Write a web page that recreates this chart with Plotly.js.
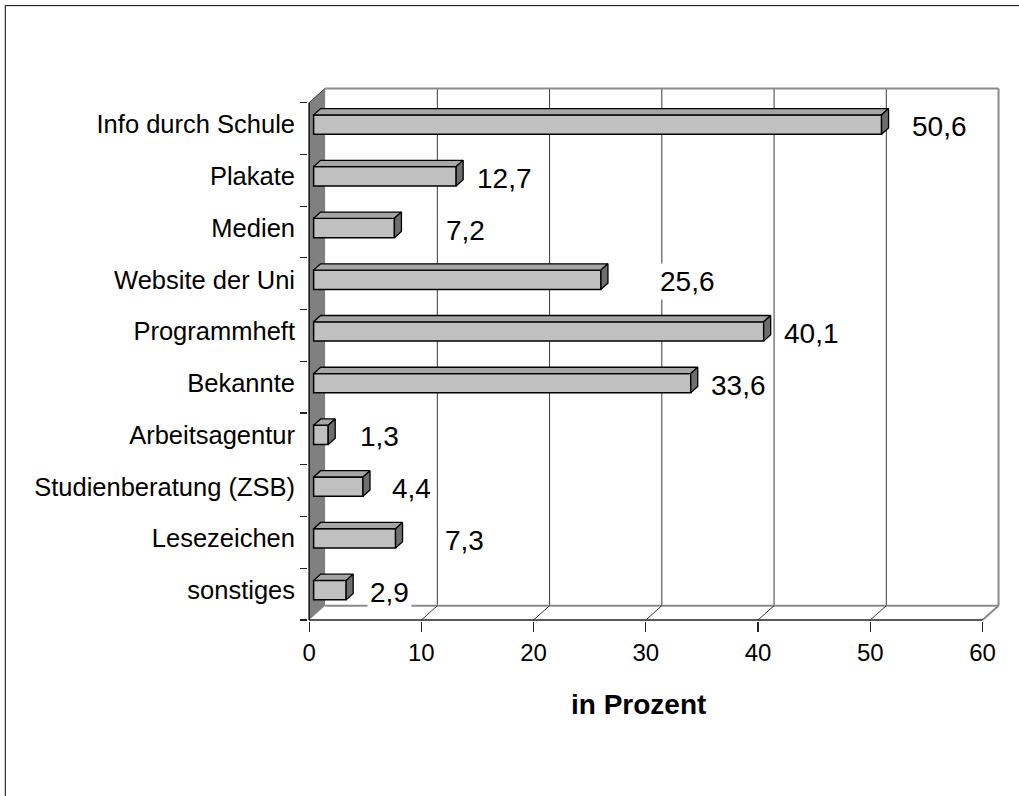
<!DOCTYPE html>
<html>
<head>
<meta charset="utf-8">
<script src="https://cdn.plot.ly/plotly-3.0.1.min.js"></script>
<style>
  html, body { margin: 0; padding: 0; background: #fff; }
  #chart { width: 1019px; height: 796px; }
</style>
</head>
<body>
<div id="chart"></div>
<script>
// ---- data ----
const categories = ['Info durch Schule', 'Plakate', 'Medien', 'Website der Uni', 'Programmheft',
                    'Bekannte', 'Arbeitsagentur', 'Studienberatung (ZSB)', 'Lesezeichen', 'sonstiges'];
const values = [50.6, 12.7, 7.2, 25.6, 40.1, 33.6, 1.3, 4.4, 7.3, 2.9];
const xTicks = [0, 10, 20, 30, 40, 50, 60];
const xTitle = 'in Prozent';

// ---- label placement (pixel gap from bar end to label centre) ----
const labelGapPx = [58, 48, 71, 87, 48, 48, 51, 48, 69, 43];

// ---- geometry / scales ----
const W = 1019, H = 796;
const FONT = 'Liberation Sans, Arial, sans-serif';
const sx = 11.23;           // px per x unit
const sy = 51.7;            // px per category
const X0PX = 309;           // pixel of x = 0 (front)
const FRONTPX = 620;        // pixel of front floor line
const xr = [-0.1, 62];
const yr = [-0.52, 9.9];
const mL = X0PX + xr[0] * sx;
const plotW = (xr[1] - xr[0]) * sx;
const mR = W - mL - plotW;
const bottomPx = FRONTPX + (-0.5 - yr[0]) * sy;
const mB = H - bottomPx;
const plotH = (yr[1] - yr[0]) * sy;
const mT = H - mB - plotH;

const Dx = 16 / sx, Dy = 14.3 / sy;     // wall depth
const dx = 7 / sx, dy = 6.3 / sy;       // bar depth
const ox = (Dx - dx) / 2, oy = (Dy - dy) / 2;
const hh = 19.3 / 2 / sy;               // half bar height

const xMax = xTicks[xTicks.length - 1];
const n = categories.length;
const yPos = categories.map((c, i) => (n - 1 - i) + oy);
const yBot = -0.5, yTop = n - 0.5;

const fmt = v => v.toFixed(1).replace('.', ',');

// ---- shapes: walls, floor, gridlines ----
const shapes = [];
const line = (x0, y0, x1, y1, color, width) => shapes.push({
  type: 'line', xref: 'x', yref: 'y', x0, y0, x1, y1, layer: 'below',
  line: { color, width }
});
// left wall
shapes.push({
  type: 'path', xref: 'x', yref: 'y', layer: 'below',
  path: `M 0 ${yBot} L ${Dx} ${yBot + Dy} L ${Dx} ${yTop + Dy} L 0 ${yTop} Z`,
  fillcolor: '#808080', line: { width: 0 }
});
// back wall gridlines
xTicks.slice(1, -1).forEach(t => line(t + Dx, yBot + Dy, t + Dx, yTop + Dy, '#3a3a3a', 1));
// back wall border + floor back edge
line(Dx, yTop + Dy, xMax + Dx, yTop + Dy, '#8a8a8a', 2);
line(xMax + Dx, yBot + Dy, xMax + Dx, yTop + Dy, '#8a8a8a', 2);
line(Dx, yBot + Dy, xMax + Dx, yBot + Dy, '#8a8a8a', 2);
line(xMax, yBot, xMax + Dx, yBot + Dy, '#8a8a8a', 2);
// floor connectors
xTicks.slice(1, -1).forEach(t => line(t, yBot, t + Dx, yBot + Dy, '#333', 1));
// front floor line and left front edge
line(0, yBot, xMax, yBot, '#222', 1.5);
line(0, yBot, 0, yTop, '#111', 1.5);
line(0, yTop, Dx, yTop + Dy, '#333', 1);

// outer frame (paper coords)
const px2paperX = p => (p - mL) / plotW;
const px2paperY = p => (bottomPx - p) / plotH;
shapes.push({
  type: 'rect', xref: 'paper', yref: 'paper', layer: 'above',
  x0: px2paperX(5), x1: px2paperX(W + 20), y0: px2paperY(H + 20), y1: px2paperY(6),
  line: { color: '#000', width: 1 }
});

// ---- bar faces ----
const topX = [], topY = [], sideX = [], sideY = [];
values.forEach((v, i) => {
  const y0 = yPos[i] - hh, y1 = yPos[i] + hh;
  const x0 = ox, x1 = ox + v;
  topX.push(x0, x1, x1 + dx, x0 + dx, x0, null);
  topY.push(y1, y1, y1 + dy, y1 + dy, y1, null);
  sideX.push(x1, x1 + dx, x1 + dx, x1, x1, null);
  sideY.push(y0, y0 + dy, y1 + dy, y1, y0, null);
});

const traces = [
  {
    type: 'bar', orientation: 'h', x: values, y: yPos, base: ox, width: 2 * hh,
    marker: { color: '#C0C0C0', line: { color: '#000', width: 1.5 } },
    hoverinfo: 'skip', showlegend: false
  },
  {
    type: 'scatter', mode: 'lines', x: topX, y: topY, fill: 'toself',
    fillcolor: '#A6A6A6', line: { color: '#000', width: 1.3 },
    hoverinfo: 'skip', showlegend: false
  },
  {
    type: 'scatter', mode: 'lines', x: sideX, y: sideY, fill: 'toself',
    fillcolor: '#6E6E6E', line: { color: '#000', width: 1.3 },
    hoverinfo: 'skip', showlegend: false
  },
  {
    type: 'scatter', mode: 'markers', x: [null], y: [null], yaxis: 'y2',
    hoverinfo: 'skip', showlegend: false
  }
];

// ---- annotations ----
const annotations = values.map((v, i) => ({
  xref: 'x', yref: 'y', x: ox + v, y: yPos[i], xshift: labelGapPx[i], yshift: -2,
  text: fmt(v), showarrow: false, xanchor: 'center', yanchor: 'middle',
  font: { family: FONT, size: 28, color: '#000' },
  bgcolor: '#fff', borderpad: 2
}));
annotations.push({
  xref: 'x', yref: 'paper', x: xMax / 2, xshift: -7, y: px2paperY(704),
  text: '<b>' + xTitle + '</b>', showarrow: false, xanchor: 'center', yanchor: 'middle',
  font: { family: FONT, size: 28, color: '#000' }
});

const layout = {
  width: W, height: H,
  margin: { l: mL, r: mR, t: mT, b: mB, pad: 0, autoexpand: false },
  paper_bgcolor: '#fff', plot_bgcolor: 'rgba(0,0,0,0)',
  showlegend: false,
  xaxis: {
    range: xr, tickvals: xTicks, ticktext: xTicks.map(String),
    ticks: 'outside', ticklen: 10, tickwidth: 1.2, tickcolor: '#222',
    showline: false, showgrid: false, zeroline: false, automargin: false,
    tickfont: { family: FONT, size: 24, color: '#000' }, fixedrange: true
  },
  yaxis: {
    range: yr, tickvals: Array.from({ length: n + 1 }, (_, k) => k - 0.5),
    ticks: 'outside', ticklen: 7, tickwidth: 1.2, tickcolor: '#222',
    showticklabels: false, showline: false, showgrid: false, zeroline: false,
    automargin: false, fixedrange: true
  },
  yaxis2: {
    overlaying: 'y', side: 'left', anchor: 'x', range: yr,
    tickvals: yPos, ticktext: categories,
    ticks: '', showline: false, showgrid: false, zeroline: false, automargin: false,
    ticklabelstandoff: 12,
    tickfont: { family: FONT, size: 25.5, color: '#000' }, fixedrange: true
  },
  shapes, annotations
};

Plotly.newPlot('chart', traces, layout, { displayModeBar: false, staticPlot: true });
</script>
</body>
</html>
